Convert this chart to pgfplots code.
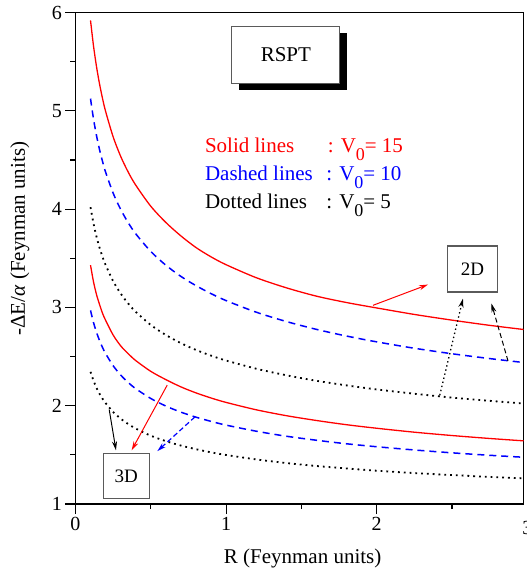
\documentclass[border=0pt]{standalone}
\usepackage{fontspec}
\setmainfont{Liberation Serif}
\usepackage{pgfplots}
\pgfplotsset{compat=1.18}
\usetikzlibrary{arrows.meta}
\definecolor{boxgray}{RGB}{90,90,90}
\newcommand{\Vsub}{V\raisebox{-8pt}{\fontsize{18}{18}\selectfont 0}}
\begin{document}
\begin{tikzpicture}
\begin{axis}[
  scale only axis,
  width=448.3pt, height=491.7pt,
  xmin=0, xmax=2.975, ymin=1, ymax=6,
  xtick={0,1,2}, ytick={1,2,3,4,5,6},
  minor xtick={0.5,1.5,2.5}, minor ytick={1.5,2.5,3.5,4.5,5.5},
  tick align=outside,
  xtick pos=bottom, ytick pos=left,
  major tick length=10pt, minor tick length=5pt,
  tick style={draw=black, line width=1.1pt},
  axis line style={line width=1.3pt},
  /pgf/number format/assume math mode=true,
  tick label style={font=\fontsize{20}{22}\selectfont},
  xlabel={R (Feynman units)},
  ylabel={-ΔE/\textit{α} (Feynman units)},
  label style={font=\fontsize{21}{24}\selectfont},
  xlabel style={at={(axis description cs:0.507,0)}, anchor=base, yshift=-59pt},
  ylabel style={at={(axis description cs:-0.124,0.54)}, anchor=center},
  clip=false,
]
% 2D curves
\addplot[red, line width=1.3pt, smooth] coordinates {
(0.1,5.920) (0.12,5.659) (0.14,5.448) (0.16,5.273) (0.18,5.124) (0.2,4.996) (0.25,4.737) (0.3,4.538) (0.35,4.378) (0.4,4.245) (0.5,4.030) (0.6,3.865) (0.7,3.728) (0.8,3.610) (0.9,3.515) (1.0,3.435) (1.2,3.303) (1.4,3.200) (1.6,3.115) (1.8,3.050) (2.0,2.995) (2.25,2.929) (2.5,2.871) (2.75,2.818) (2.975,2.776)};
\addplot[blue, line width=1.5pt, smooth, dash pattern=on 7pt off 5pt] coordinates {
(0.1,5.125) (0.12,4.916) (0.14,4.747) (0.16,4.605) (0.18,4.484) (0.2,4.378) (0.25,4.164) (0.3,3.998) (0.35,3.863) (0.4,3.750) (0.5,3.570) (0.6,3.430) (0.7,3.316) (0.8,3.222) (0.9,3.141) (1.0,3.070) (1.2,2.952) (1.4,2.857) (1.6,2.777) (1.8,2.709) (2.0,2.650) (2.25,2.585) (2.5,2.529) (2.75,2.480) (2.975,2.440)};
\addplot[black, line width=1.8pt, smooth, dash pattern=on 1.8pt off 4pt] coordinates {
(0.1,4.020) (0.12,3.853) (0.14,3.719) (0.16,3.608) (0.18,3.514) (0.2,3.433) (0.25,3.268) (0.3,3.142) (0.35,3.040) (0.4,2.956) (0.5,2.822) (0.6,2.720) (0.7,2.637) (0.8,2.568) (0.9,2.510) (1.0,2.460) (1.2,2.377) (1.4,2.310) (1.6,2.254) (1.8,2.207) (2.0,2.166) (2.25,2.122) (2.5,2.083) (2.75,2.050) (2.975,2.023)};
% 3D curves
\addplot[red, line width=1.3pt, smooth] coordinates {
(0.1,3.430) (0.12,3.260) (0.14,3.130) (0.16,3.030) (0.18,2.940) (0.2,2.870) (0.25,2.720) (0.3,2.610) (0.35,2.530) (0.4,2.460) (0.5,2.350) (0.6,2.266) (0.7,2.192) (0.8,2.131) (0.9,2.079) (1.0,2.034) (1.2,1.959) (1.4,1.899) (1.6,1.850) (1.8,1.807) (2.0,1.771) (2.25,1.731) (2.5,1.697) (2.75,1.667) (2.975,1.643)};
\addplot[blue, line width=1.5pt, smooth, dash pattern=on 7pt off 5pt] coordinates {
(0.1,2.970) (0.12,2.846) (0.14,2.746) (0.16,2.663) (0.18,2.592) (0.2,2.531) (0.25,2.408) (0.3,2.313) (0.35,2.237) (0.4,2.174) (0.5,2.074) (0.6,1.997) (0.7,1.935) (0.8,1.884) (0.9,1.841) (1.0,1.803) (1.2,1.741) (1.4,1.690) (1.6,1.649) (1.8,1.613) (2.0,1.583) (2.25,1.550) (2.5,1.521) (2.75,1.496) (2.975,1.476)};
\addplot[black, line width=1.8pt, smooth, dash pattern=on 1.8pt off 4pt] coordinates {
(0.1,2.345) (0.12,2.255) (0.14,2.182) (0.16,2.122) (0.18,2.071) (0.2,2.027) (0.25,1.937) (0.3,1.869) (0.35,1.814) (0.4,1.768) (0.5,1.695) (0.6,1.640) (0.7,1.595) (0.8,1.558) (0.9,1.526) (1.0,1.499) (1.2,1.454) (1.4,1.417) (1.6,1.387) (1.8,1.362) (2.0,1.339) (2.25,1.315) (2.5,1.295) (2.75,1.276) (2.975,1.262)};

% RSPT box with shadow
\node[fill=black, minimum width=108pt, minimum height=57pt, inner sep=0pt, xshift=7pt, yshift=-7pt] at (axis cs:1.397,5.569) {};
\node[fill=white, draw=boxgray, line width=1.2pt, minimum width=108pt, minimum height=57pt, inner sep=0pt, font=\fontsize{21}{24}\selectfont] at (axis cs:1.397,5.569) {RSPT};

% legend text
\node[anchor=base west, inner sep=0pt, text=red, font=\fontsize{21}{24}\selectfont] at (axis cs:0.859,4.572) {Solid lines};
\node[anchor=base west, inner sep=0pt, text=red, font=\fontsize{21}{24}\selectfont] at (axis cs:1.675,4.572) {: \Vsub= 15};
\node[anchor=base west, inner sep=0pt, text=blue, font=\fontsize{21}{24}\selectfont] at (axis cs:0.859,4.294) {Dashed lines};
\node[anchor=base west, inner sep=0pt, text=blue, font=\fontsize{21}{24}\selectfont] at (axis cs:1.665,4.294) {: \Vsub= 10};
\node[anchor=base west, inner sep=0pt, text=black, font=\fontsize{21}{24}\selectfont] at (axis cs:0.859,4.006) {Dotted lines};
\node[anchor=base west, inner sep=0pt, text=black, font=\fontsize{21}{24}\selectfont] at (axis cs:1.665,4.006) {: \Vsub= 5};

% 2D / 3D boxes
\node[fill=white, draw=boxgray, line width=1.2pt, minimum width=50pt, minimum height=46pt, inner sep=0pt, font=\fontsize{19}{22}\selectfont] at (axis cs:2.636,3.392) {2D};
\node[fill=white, draw=boxgray, line width=1.2pt, minimum width=46pt, minimum height=45pt, inner sep=0pt, font=\fontsize{19}{22}\selectfont] at (axis cs:0.337,1.285) {3D};

% arrows
\draw[red, line width=1pt, -{Stealth[length=9pt,width=5pt]}] (axis cs:1.976,3.022) -- (axis cs:2.341,3.233);
\draw[black, line width=1.3pt, dash pattern=on 1.4pt off 2.8pt, -{Stealth[length=9pt,width=5pt]}] (axis cs:2.419,2.107) -- (axis cs:2.573,3.09);
\draw[black, line width=1pt, dash pattern=on 5pt off 3pt, -{Stealth[length=9pt,width=5pt]}] (axis cs:2.872,2.456) -- (axis cs:2.762,3.04);
\draw[red, line width=1pt, -{Stealth[length=9pt,width=5pt]}] (axis cs:0.609,2.209) -- (axis cs:0.373,1.547);
\draw[black, line width=1pt, -{Stealth[length=9pt,width=5pt]}] (axis cs:0.224,1.961) -- (axis cs:0.269,1.547);
\draw[blue, line width=1.2pt, dash pattern=on 5pt off 3pt, -{Stealth[length=9pt,width=5pt]}] (axis cs:0.793,1.886) -- (axis cs:0.543,1.537);

% partially visible tick label 3 at the cropped right edge
\node[anchor=north, font=\fontsize{20}{22}\selectfont, yshift=-14pt] at (axis cs:3,1) {3};
\end{axis}
\pgfresetboundingbox
\useasboundingbox (-75.5pt,-68pt) rectangle (451.5pt,504.3pt);
\end{tikzpicture}
\end{document}
